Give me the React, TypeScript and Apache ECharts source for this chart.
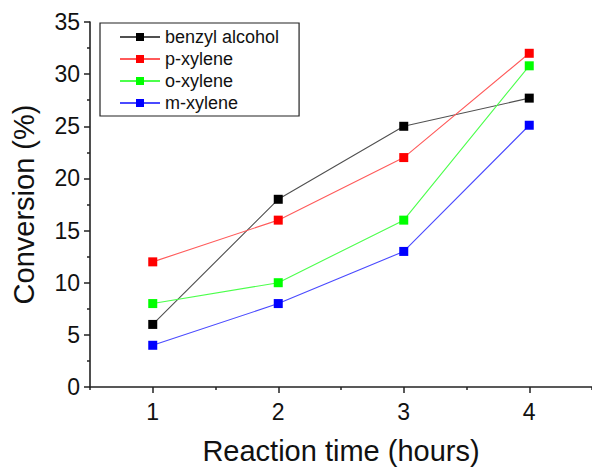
import React, { useEffect, useRef } from "react";
import * as echarts from "echarts";

// Reaction time (hours) and conversion (%) for each substrate
const hours = ["1", "2", "3", "4"];
const benzylAlcohol = [6, 18, 25, 27.7];
const pXylene = [12, 16, 22, 32];
const oXylene = [8, 10, 16, 30.8];
const mXylene = [4, 8, 13, 25.1];

const seriesNames = ["benzyl alcohol", "p-xylene", "o-xylene", "m-xylene"];
const markerColors = ["#000000", "#ff0000", "#00ff00", "#0000ff"];
const lineColors = ["#505050", "#ff5a5a", "#4cff4c", "#4a4aff"];

const FONT = "'Liberation Sans', Arial, sans-serif";

export default function App() {
  const ref = useRef<HTMLDivElement>(null);

  useEffect(() => {
    if (!ref.current) return;
    const chart = echarts.init(ref.current, undefined, { renderer: "svg" });
    const values = [benzylAlcohol, pXylene, oXylene, mXylene];

    chart.setOption({
      animation: false,
      backgroundColor: "#ffffff",
      textStyle: { fontFamily: FONT },
      grid: { left: 90, right: 0, top: 22, bottom: 78 },
      legend: {
        orient: "vertical",
        left: 100,
        top: 23,
        data: seriesNames,
        itemWidth: 40,
        itemHeight: 10,
        itemGap: 4,
        padding: [5, 20, 4, 19],
        borderColor: "#222",
        borderWidth: 1.2,
        textStyle: { fontSize: 18, color: "#111", fontFamily: FONT },
      },
      xAxis: [
        {
          type: "category",
          data: hours,
          boundaryGap: true,
          name: "Reaction time (hours)",
          nameLocation: "middle",
          nameGap: 49,
          nameTextStyle: { fontSize: 29, color: "#111", fontFamily: FONT },
          axisLine: { show: true, lineStyle: { color: "#222", width: 1.6 } },
          axisTick: { show: true, alignWithLabel: true, length: 6, lineStyle: { color: "#222", width: 1.5 } },
          axisLabel: { fontSize: 23, color: "#111", margin: 13, fontFamily: FONT },
          splitLine: { show: false },
        },
        {
          type: "category",
          data: hours,
          boundaryGap: true,
          position: "bottom",
          axisLine: { show: false },
          axisTick: { show: true, length: 3, lineStyle: { color: "#222", width: 1.5 } },
          axisLabel: { show: false },
          splitLine: { show: false },
        },
      ],
      yAxis: {
        type: "value",
        min: 0,
        max: 35,
        interval: 5,
        name: "Conversion (%)",
        nameLocation: "middle",
        nameGap: 52,
        nameTextStyle: { fontSize: 29, color: "#111", fontFamily: FONT },
        axisLine: { show: true, lineStyle: { color: "#222", width: 1.6 } },
        axisTick: { show: true, length: 6, lineStyle: { color: "#222", width: 1.5 } },
        minorTick: { show: true, splitNumber: 2, length: 3, lineStyle: { color: "#222", width: 1.5 } },
        axisLabel: { fontSize: 23, color: "#111", margin: 10, fontFamily: FONT },
        splitLine: { show: false },
      },
      series: seriesNames.map((name, i) => ({
        name,
        type: "line",
        xAxisIndex: 0,
        data: values[i],
        symbol: "rect",
        symbolSize: 9,
        itemStyle: { color: markerColors[i] },
        lineStyle: { color: lineColors[i], width: 1.1 },
      })),
    });

    return () => chart.dispose();
  }, []);

  return (
    <div
      ref={ref}
      style={{ position: "fixed", left: 0, top: 0, width: 592, height: 470 }}
    />
  );
}
